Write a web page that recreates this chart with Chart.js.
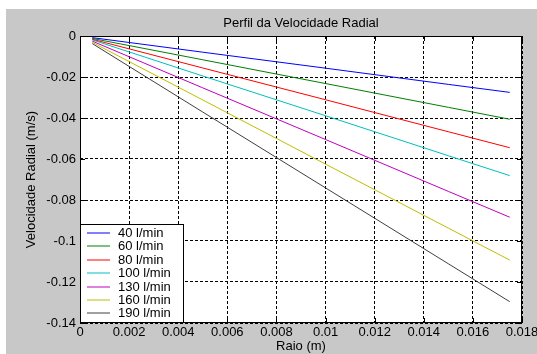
<!DOCTYPE html>
<html>
<head>
<meta charset="utf-8">
<script src="https://cdn.jsdelivr.net/npm/chart.js@4"></script>
<style>
  html, body { margin: 0; padding: 0; background: #ffffff; }
  #wrap { width: 537px; height: 354px; }
</style>
</head>
<body>
<div id="wrap"><canvas id="radialChart" width="537" height="354"></canvas></div>
<script>
/**
 * Values.
 */
var raio = [0.0005, 0.005, 0.01, 0.015, 0.0175];
var v40  = [-0.0008, -0.0079, -0.0157, -0.0236, -0.0275];
var v60  = [-0.0012, -0.0116, -0.0232, -0.0348, -0.0406];
var v80  = [-0.0016, -0.0156, -0.0311, -0.0467, -0.0545];
var v100 = [-0.0019, -0.0195, -0.0389, -0.0584, -0.0681];
var v130 = [-0.0025, -0.0253, -0.0505, -0.0758, -0.0884];
var v160 = [-0.0031, -0.0312, -0.0625, -0.0937, -0.1093];
var v190 = [-0.0037, -0.0371, -0.0741, -0.1111, -0.1296];
var seriesLabels = ['40 l/min', '60 l/min', '80 l/min', '100 l/min', '130 l/min', '160 l/min', '190 l/min'];
var seriesColors = ['#0000ff', '#008000', '#ff0000', '#00bfbf', '#bf00bf', '#bfbf00', '#404040'];
var xTicks = {min: 0, max: 0.018, step: 0.002};
var yTicks = {min: -0.14, max: 0, step: 0.02};
var chartTitle = 'Perfil da Velocidade Radial';
var xTitle = 'Raio (m)';
var yTitle = 'Velocidade Radial (m/s)';

const FONT = '13px "Liberation Sans", Arial, sans-serif';

function points(values) {
    return values.map(function(v, i) { return {x: raio[i], y: v}; });
}

function fmt(v) {
    return Number(v.toFixed(4)).toString();
}

var allSeries = [v40, v60, v80, v100, v130, v160, v190];
var datasets = allSeries.map(function(vals, i) {
    return {
        label: seriesLabels[i],
        data: points(vals),
        borderColor: seriesColors[i],
        backgroundColor: seriesColors[i],
        borderWidth: 1,
        pointRadius: 0,
        fill: false,
        tension: 0
    };
});

/**
 *  Grey figure background, frame, inner ticks, titles and the boxed legend.
 */
var matlabLook = {
    id: 'matlabLook',
    beforeDraw: function(chart) {
        const ctx = chart.ctx;
        const a = chart.chartArea;
        ctx.save();
        ctx.fillStyle = '#c8c8c8';
        ctx.fillRect(6, 9, chart.width - 6, chart.height - 9);
        ctx.fillStyle = '#ffffff';
        ctx.fillRect(a.left, a.top, a.right - a.left, a.bottom - a.top);
        ctx.restore();
    },
    afterDraw: function(chart) {
        const ctx = chart.ctx;
        const a = chart.chartArea;
        const xs = chart.scales.x;
        const ys = chart.scales.y;
        ctx.save();
        ctx.setLineDash([]);

        // frame
        ctx.strokeStyle = '#000000';
        ctx.lineWidth = 1;
        ctx.strokeRect(a.left + 0.5, a.top + 0.5, a.right - a.left - 1, a.bottom - a.top - 1);

        // inward tick marks
        ctx.beginPath();
        xs.ticks.forEach(function(t) {
            const px = Math.round(xs.getPixelForValue(t.value)) + 0.5;
            ctx.moveTo(px, a.bottom); ctx.lineTo(px, a.bottom - 5);
            ctx.moveTo(px, a.top); ctx.lineTo(px, a.top + 5);
        });
        ys.ticks.forEach(function(t) {
            const py = Math.round(ys.getPixelForValue(t.value)) + 0.5;
            ctx.moveTo(a.left, py); ctx.lineTo(a.left + 5, py);
            ctx.moveTo(a.right, py); ctx.lineTo(a.right - 5, py);
        });
        ctx.stroke();

        // titles
        ctx.fillStyle = '#000000';
        ctx.font = FONT;
        ctx.textAlign = 'center';
        ctx.textBaseline = 'middle';
        ctx.fillText(chartTitle, (a.left + a.right) / 2, 23);
        ctx.fillText(xTitle, (a.left + a.right) / 2, 346);
        ctx.translate(31, (a.top + a.bottom) / 2);
        ctx.rotate(-Math.PI / 2);
        ctx.fillText(yTitle, 0, 0);
        ctx.restore();

        // legend box
        ctx.save();
        ctx.setLineDash([]);
        const bx = a.left, by = 224, bw = 103, bh = a.bottom - 224;
        ctx.fillStyle = '#ffffff';
        ctx.fillRect(bx, by, bw, bh);
        ctx.strokeStyle = '#000000';
        ctx.lineWidth = 1;
        ctx.strokeRect(bx + 0.5, by + 0.5, bw, bh - 1);
        ctx.font = FONT;
        ctx.textAlign = 'left';
        ctx.textBaseline = 'middle';
        chart.data.datasets.forEach(function(ds, i) {
            const cy = Math.round(233 + i * 13.4);
            ctx.strokeStyle = seriesColors[i];
            ctx.beginPath();
            ctx.moveTo(bx + 7, cy);
            ctx.lineTo(bx + 30, cy);
            ctx.stroke();
            ctx.fillStyle = '#000000';
            ctx.fillText(ds.label, bx + 38, cy + 0.5);
        });
        ctx.restore();
    }
};

var radialChart = new Chart(document.getElementById('radialChart').getContext('2d'), {
    type: 'line',
    data: { datasets: datasets },
    plugins: [matlabLook],
    options: {
        responsive: false,
        animation: false,
        layout: { padding: { top: 36, right: 15, left: 0, bottom: 0 } },
        plugins: {
            legend: { display: false },
            title: { display: false },
            tooltip: { enabled: false }
        },
        scales: {
            x: {
                type: 'linear',
                min: xTicks.min,
                max: xTicks.max,
                afterFit: function(s) { s.height = 31; s.paddingLeft = 0; s.paddingRight = 0; },
                ticks: {
                    stepSize: xTicks.step,
                    color: '#000000',
                    font: { family: '"Liberation Sans", Arial, sans-serif', size: 13 },
                    maxRotation: 0,
                    padding: 2,
                    callback: fmt
                },
                grid: { color: '#000000', lineWidth: 1, drawTicks: false },
                border: { display: false, dash: [3, 2] }
            },
            y: {
                type: 'linear',
                min: yTicks.min,
                max: yTicks.max,
                afterFit: function(s) { s.width = 80; s.paddingTop = 0; s.paddingBottom = 0; },
                ticks: {
                    stepSize: yTicks.step,
                    color: '#000000',
                    font: { family: '"Liberation Sans", Arial, sans-serif', size: 13 },
                    padding: 4,
                    callback: fmt
                },
                grid: { color: '#000000', lineWidth: 1, drawTicks: false },
                border: { display: false, dash: [3, 2] }
            }
        }
    }
});
</script>
</body>
</html>
